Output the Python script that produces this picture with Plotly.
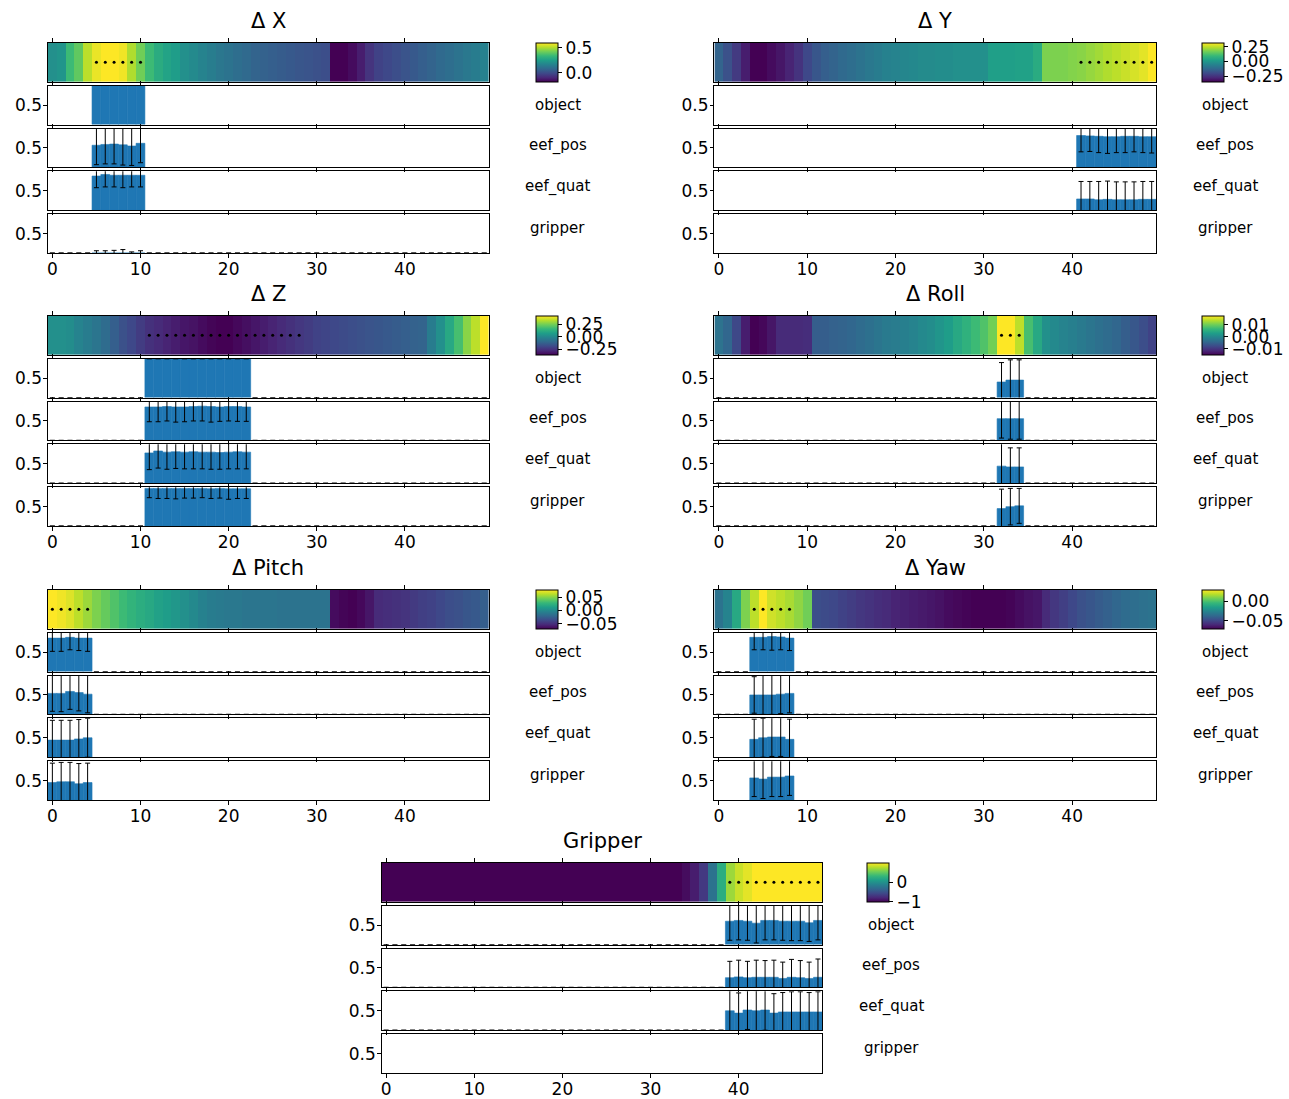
import plotly.graph_objects as go

W, H = 1289, 1099
FONT = "DejaVu Sans"
BAR_BLUE = "#1f77b4"

STEPS = list(range(50))
GROUPS = ["object", "eef_pos", "eef_quat", "gripper"]
X_TICKS = [0, 10, 20, 30, 40]

# ---------------- Δ X ----------------
DX_HEAT = [0.21, 0.226, 0.35, 0.405, 0.52, 0.577, 0.6, 0.6, 0.584, 0.506,
           0.428, 0.35, 0.30, 0.27, 0.25, 0.21, 0.19, 0.17, 0.15, 0.13,
           0.116, 0.10, 0.085, 0.07, 0.062, 0.054, 0.046, 0.038, 0.03, 0.023,
           0.015, 0.007, -0.18, -0.18, -0.157, -0.118, -0.063, -0.024, -0.008, 0.007,
           0.023, 0.038, 0.054, 0.07, 0.085, 0.10, 0.116, 0.132, 0.148, 0.163]
DX_DOTS = [5, 6, 7, 8, 9, 10]
DX_STEPS = [5, 6, 7, 8, 9, 10]
DX_VALUES = {
    "object": [1.05, 1.05, 1.05, 1.05, 1.05, 1.05],
    "eef_pos": [0.57, 0.59, 0.60, 0.58, 0.55, 0.62],
    "eef_quat": [0.88, 0.92, 0.90, 0.90, 0.90, 0.90],
    "gripper": [0.0, 0.0, 0.0, 0.0, 0.0, 0.0],
}
DX_ERRORS = {
    "object": [0.04, 0.04, 0.04, 0.04, 0.04, 0.04],
    "eef_pos": [0.50, 0.50, 0.51, 0.52, 0.50, 0.50],
    "eef_quat": [0.30, 0.32, 0.30, 0.32, 0.30, 0.30],
    "gripper": [0.06, 0.06, 0.07, 0.09, 0.03, 0.06],
}

# ---------------- Δ Y ----------------
DY_HEAT = [-0.136, -0.183, -0.236, -0.296, -0.35, -0.35, -0.33, -0.31, -0.283, -0.25,
           -0.203, -0.169, -0.149, -0.136, -0.122, -0.109, -0.095, -0.082, -0.069, -0.055,
           -0.049, -0.042, -0.035, -0.028, -0.028, -0.022, -0.022, -0.015, -0.015, -0.015,
           -0.015, 0.025, 0.025, 0.025, 0.03, 0.03, 0.06, 0.186, 0.186, 0.186,
           0.193, 0.199, 0.213, 0.226, 0.24, 0.253, 0.266, 0.28, 0.293, 0.32]
DY_DOTS = [41, 42, 43, 44, 45, 46, 47, 48, 49]
DY_STEPS = [41, 42, 43, 44, 45, 46, 47, 48, 49]
DY_VALUES = {
    "eef_pos": [0.82, 0.81, 0.80, 0.79, 0.79, 0.80, 0.80, 0.79, 0.79],
    "eef_quat": [0.29, 0.29, 0.27, 0.28, 0.27, 0.27, 0.27, 0.28, 0.28],
}
DY_ERRORS = {
    "eef_pos": [0.42, 0.40, 0.42, 0.43, 0.41, 0.42, 0.40, 0.41, 0.42],
    "eef_quat": [0.45, 0.45, 0.47, 0.47, 0.46, 0.46, 0.46, 0.46, 0.46],
}

# ---------------- Δ Z ----------------
DZ_HEAT = [0.03, 0.03, 0.022, -0.009, -0.032, -0.056, -0.087, -0.126, -0.165, -0.188,
           -0.22, -0.251, -0.266, -0.282, -0.298, -0.313, -0.321, -0.337, -0.352, -0.36,
           -0.36, -0.344, -0.329, -0.313, -0.298, -0.282, -0.266, -0.251, -0.235, -0.22,
           -0.204, -0.196, -0.188, -0.181, -0.173, -0.165, -0.157, -0.149, -0.142, -0.134,
           -0.126, -0.118, -0.11, -0.032, 0.03, 0.108, 0.186, 0.28, 0.342, 0.42]
DZ_DOTS = [11, 12, 13, 14, 15, 16, 17, 18, 19, 20, 21, 22, 23, 24, 25, 26, 27, 28]
DZ_STEPS = [11, 12, 13, 14, 15, 16, 17, 18, 19, 20, 21, 22]
DZ_VALUES = {
    "object": [1.0, 1.0, 1.0, 1.0, 1.0, 1.0, 1.0, 1.0, 1.0, 1.0, 1.0, 1.0],
    "eef_pos": [0.86, 0.86, 0.87, 0.86, 0.86, 0.87, 0.88, 0.87, 0.86, 0.87, 0.87, 0.86],
    "eef_quat": [0.78, 0.83, 0.80, 0.81, 0.80, 0.81, 0.80, 0.80, 0.79, 0.80, 0.81, 0.80],
    "gripper": [0.97, 0.97, 0.97, 0.97, 0.97, 0.97, 0.97, 0.96, 0.97, 0.96, 0.96, 0.96],
}
DZ_ERRORS = {
    "object": [0.0, 0.0, 0.0, 0.0, 0.0, 0.0, 0.0, 0.0, 0.0, 0.0, 0.0, 0.0],
    "eef_pos": [0.38, 0.38, 0.37, 0.39, 0.38, 0.37, 0.38, 0.40, 0.37, 0.37, 0.38, 0.37],
    "eef_quat": [0.43, 0.44, 0.44, 0.43, 0.43, 0.44, 0.43, 0.44, 0.43, 0.43, 0.44, 0.43],
    "gripper": [0.24, 0.26, 0.26, 0.27, 0.25, 0.25, 0.24, 0.25, 0.25, 0.27, 0.25, 0.25],
}

# ---------------- Δ Roll ----------------
DROLL_HEAT = [-0.0027, -0.0043, -0.0079, -0.0124, -0.015, -0.0144, -0.0131, -0.0111, -0.0111, -0.0111,
              -0.0108, -0.0053, -0.0053, -0.0049, -0.0046, -0.0043, -0.0036, -0.0030, -0.0023, -0.0017,
              -0.0014, -0.0010, -0.0004, 0.0003, 0.0009, 0.0019, 0.0029, 0.0045, 0.0058, 0.0071,
              0.0084, 0.0104, 0.0175, 0.0175, 0.0143, 0.0078, 0.0045, 0.0013, 0.0003, -0.0004,
              -0.0010, -0.0017, -0.0023, -0.0030, -0.0036, -0.0043, -0.0053, -0.0062, -0.0072, -0.0085]
DROLL_DOTS = [32, 33, 34]
DROLL_STEPS = [32, 33, 34]
DROLL_VALUES = {
    "object": [0.40, 0.45, 0.45],
    "eef_pos": [0.56, 0.56, 0.56],
    "eef_quat": [0.44, 0.42, 0.42],
    "gripper": [0.45, 0.50, 0.52],
}
DROLL_ERRORS = {
    "object": [0.50, 0.52, 0.52],
    "eef_pos": [0.50, 0.53, 0.53],
    "eef_quat": [0.60, 0.49, 0.49],
    "gripper": [0.50, 0.47, 0.45],
}

# ---------------- Δ Pitch ----------------
DPITCH_HEAT = [0.078, 0.075, 0.0706, 0.0632, 0.0558, 0.0484, 0.0425, 0.0366, 0.0306, 0.0262,
               0.0218, 0.0188, 0.0144, 0.0114, 0.0084, 0.004, -0.0004, -0.0049, -0.0078, -0.0093,
               -0.0108, -0.0108, -0.0123, -0.0123, -0.0123, -0.0123, -0.0138, -0.0138, -0.0138, -0.0138,
               -0.0138, -0.0138, -0.0656, -0.0685, -0.07, -0.067, -0.0611, -0.0522, -0.0508, -0.0493,
               -0.0478, -0.0448, -0.0419, -0.0404, -0.0374, -0.0345, -0.033, -0.030, -0.0286, -0.0256]
DPITCH_DOTS = [0, 1, 2, 3, 4]
DPITCH_STEPS = [0, 1, 2, 3, 4]
DPITCH_VALUES = {
    "object": [0.86, 0.86, 0.88, 0.86, 0.86],
    "eef_pos": [0.54, 0.54, 0.59, 0.56, 0.52],
    "eef_quat": [0.44, 0.44, 0.44, 0.47, 0.50],
    "gripper": [0.45, 0.47, 0.47, 0.42, 0.45],
}
DPITCH_ERRORS = {
    "object": [0.34, 0.34, 0.32, 0.32, 0.34],
    "eef_pos": [0.46, 0.47, 0.46, 0.47, 0.48],
    "eef_quat": [0.51, 0.51, 0.51, 0.50, 0.50],
    "gripper": [0.50, 0.50, 0.50, 0.52, 0.50],
}

# ---------------- Δ Yaw ----------------
DYAW_HEAT = [-0.0326, -0.0256, -0.0104, 0.0098, 0.0199, 0.030, 0.0229, 0.0199, 0.0169, 0.0128,
             0.0078, -0.0468, -0.0478, -0.0488, -0.0508, -0.0528, -0.0548, -0.0559, -0.0579, -0.0589,
             -0.0609, -0.0619, -0.0629, -0.0639, -0.0649, -0.066, -0.068, -0.069, -0.070, -0.071,
             -0.071, -0.071, -0.071, -0.070, -0.068, -0.066, -0.0649, -0.0589, -0.0548, -0.0518,
             -0.0488, -0.0458, -0.0437, -0.0417, -0.0397, -0.0377, -0.0357, -0.0346, -0.0336, -0.0326]
DYAW_DOTS = [4, 5, 6, 7, 8]
DYAW_STEPS = [4, 5, 6, 7, 8]
DYAW_VALUES = {
    "object": [0.88, 0.88, 0.90, 0.89, 0.86],
    "eef_pos": [0.50, 0.50, 0.50, 0.52, 0.54],
    "eef_quat": [0.46, 0.50, 0.52, 0.52, 0.46],
    "gripper": [0.57, 0.54, 0.59, 0.59, 0.62],
}
DYAW_ERRORS = {
    "object": [0.32, 0.32, 0.35, 0.33, 0.32],
    "eef_pos": [0.47, 0.50, 0.50, 0.50, 0.50],
    "eef_quat": [0.52, 0.50, 0.50, 0.50, 0.52],
    "gripper": [0.48, 0.50, 0.50, 0.50, 0.50],
}

# ---------------- Gripper ----------------
GRIP_HEAT = [-1.0, -1.0, -1.0, -1.0, -1.0, -1.0, -1.0, -1.0, -1.0, -1.0,
             -1.0, -1.0, -1.0, -1.0, -1.0, -1.0, -1.0, -1.0, -1.0, -1.0,
             -1.0, -1.0, -1.0, -1.0, -1.0, -1.0, -1.0, -1.0, -1.0, -1.0,
             -1.0, -1.0, -1.0, -1.0, -0.94, -0.84, -0.66, -0.24, 0.24, 0.70,
             0.84, 0.92, 1.0, 1.0, 1.0, 1.0, 1.0, 1.0, 1.0, 1.0]
GRIP_DOTS = [39, 40, 41, 42, 43, 44, 45, 46, 47, 48, 49]
GRIP_STEPS = [39, 40, 41, 42, 43, 44, 45, 46, 47, 48, 49]
GRIP_VALUES = {
    "object": [0.60, 0.62, 0.60, 0.55, 0.62, 0.62, 0.60, 0.60, 0.60, 0.56, 0.62],
    "eef_pos": [0.25, 0.27, 0.25, 0.26, 0.26, 0.26, 0.23, 0.26, 0.25, 0.23, 0.26],
    "eef_quat": [0.50, 0.44, 0.52, 0.50, 0.52, 0.44, 0.47, 0.47, 0.47, 0.47, 0.47],
}
GRIP_ERRORS = {
    "object": [0.49, 0.50, 0.49, 0.51, 0.50, 0.50, 0.49, 0.50, 0.50, 0.48, 0.50],
    "eef_pos": [0.42, 0.43, 0.42, 0.44, 0.43, 0.44, 0.42, 0.46, 0.44, 0.42, 0.47],
    "eef_quat": [0.52, 0.52, 0.50, 0.52, 0.52, 0.50, 0.50, 0.52, 0.52, 0.50, 0.52],
}

PANELS = [
    dict(title="Δ X", heat=DX_HEAT, zr=(-0.18, 0.60), cb=([0.0, 0.5], ["0.0", "0.5"]),
         dots=DX_DOTS, steps=DX_STEPS, values=DX_VALUES, errors=DX_ERRORS,
         baseline=["gripper"], col="left", row=0),
    dict(title="Δ Y", heat=DY_HEAT, zr=(-0.35, 0.32),
         cb=([-0.25, 0.0, 0.25], ["\u22120.25", "0.00", "0.25"]),
         dots=DY_DOTS, steps=DY_STEPS, values=DY_VALUES, errors=DY_ERRORS,
         baseline=[], col="right", row=0),
    dict(title="Δ Z", heat=DZ_HEAT, zr=(-0.36, 0.42),
         cb=([-0.25, 0.0, 0.25], ["\u22120.25", "0.00", "0.25"]),
         dots=DZ_DOTS, steps=DZ_STEPS, values=DZ_VALUES, errors=DZ_ERRORS,
         baseline=GROUPS, col="left", row=1),
    dict(title="Δ Roll", heat=DROLL_HEAT, zr=(-0.015, 0.0175),
         cb=([-0.01, 0.0, 0.01], ["\u22120.01", "0.00", "0.01"]),
         dots=DROLL_DOTS, steps=DROLL_STEPS, values=DROLL_VALUES, errors=DROLL_ERRORS,
         baseline=GROUPS, col="right", row=1),
    dict(title="Δ Pitch", heat=DPITCH_HEAT, zr=(-0.07, 0.078),
         cb=([-0.05, 0.0, 0.05], ["\u22120.05", "0.00", "0.05"]),
         dots=DPITCH_DOTS, steps=DPITCH_STEPS, values=DPITCH_VALUES, errors=DPITCH_ERRORS,
         baseline=["object", "eef_pos"], col="left", row=2),
    dict(title="Δ Yaw", heat=DYAW_HEAT, zr=(-0.071, 0.030),
         cb=([-0.05, 0.0], ["\u22120.05", "0.00"]),
         dots=DYAW_DOTS, steps=DYAW_STEPS, values=DYAW_VALUES, errors=DYAW_ERRORS,
         baseline=["object", "eef_pos"], col="right", row=2),
    dict(title="Gripper", heat=GRIP_HEAT, zr=(-1.0, 1.0), cb=([-1, 0], ["\u22121", "0"]),
         dots=GRIP_DOTS, steps=GRIP_STEPS, values=GRIP_VALUES, errors=GRIP_ERRORS,
         baseline=["object", "eef_pos", "eef_quat"], col="mid", row=3),
]

# page geometry (pixels); vertical positions are mapped through PAGE_H
COLUMN_X = {"left": (47, 488), "right": (714, 1156), "mid": (381, 822)}
CBAR_X = {"left": 535, "right": 1202, "mid": 867}
ROW_TOP = [43, 317, 592, 866]
PANEL_H = 39
PANEL_STEP = 43
LABEL_DY = [62, 103, 144, 186]
PAGE_H = 1094.0


def yfrac(py):
    return 1 - py / PAGE_H


fig = go.Figure()
layout_axes = {}
annotations = []

axis_font = dict(family=FONT, size=17, color="black")
bar_marker = dict(color=BAR_BLUE, line=dict(color=BAR_BLUE, width=0.6))

for d, p in enumerate(PANELS):
    x0, x1 = COLUMN_X[p["col"]]
    top = ROW_TOP[p["row"]]
    for r in range(5):
        n = d * 5 + r + 1
        sfx = "" if n == 1 else str(n)
        y0 = top + r * PANEL_STEP
        y1 = y0 + PANEL_H
        layout_axes["xaxis" + sfx] = dict(
            domain=[x0 / W, x1 / W], anchor="y" + sfx, range=[-0.5, 49.5],
            tickvals=X_TICKS, ticks="outside", ticklen=3.5, tickwidth=1, tickcolor="black",
            showline=True, linecolor="black", linewidth=1, mirror="ticks",
            showgrid=False, zeroline=False, showticklabels=(r == 4), tickfont=axis_font,
            ticklabelstandoff=-3,
        )
        if r == 0:
            layout_axes["yaxis" + sfx] = dict(
                domain=[yfrac(y1), yfrac(y0)], anchor="x" + sfx, range=[-0.5, 0.5],
                showticklabels=False, ticks="", showgrid=False, zeroline=False,
                showline=True, linecolor="black", linewidth=1, mirror=True,
            )
            cb_vals, cb_text = p["cb"]
            fig.add_trace(go.Heatmap(
                z=[p["heat"]], x=STEPS, y=[0], colorscale="Viridis",
                zmin=p["zr"][0], zmax=p["zr"][1], xaxis="x" + sfx, yaxis="y" + sfx,
                colorbar=dict(
                    x=CBAR_X[p["col"]] / W, xanchor="left", y=yfrac(top), yanchor="top",
                    len=PANEL_H, lenmode="pixels", thickness=22, thicknessmode="pixels",
                    xpad=0, ypad=0, outlinewidth=1, outlinecolor="black",
                    tickvals=cb_vals, ticktext=cb_text, ticks="outside", ticklen=4,
                    tickcolor="black", tickfont=axis_font,
                ),
            ))
            fig.add_trace(go.Scatter(
                x=p["dots"], y=[0] * len(p["dots"]), mode="markers",
                marker=dict(color="black", size=3), xaxis="x" + sfx, yaxis="y" + sfx,
            ))
        else:
            group = GROUPS[r - 1]
            layout_axes["yaxis" + sfx] = dict(
                domain=[yfrac(y1), yfrac(y0)], anchor="x" + sfx, range=[0, 1],
                tickvals=[0.5], ticktext=["0.5"], ticks="outside", ticklen=3.5,
                tickcolor="black", showgrid=False, zeroline=False, tickfont=axis_font,
                showline=True, linecolor="black", linewidth=1, mirror=True,
                ticklabelstandoff=-2,
            )
            err_style = dict(type="data", symmetric=True, color="black",
                             thickness=1, width=2.5)
            # an empty trace keeps the subplot (frame, ticks) drawn even without bars
            fig.add_trace(go.Bar(x=[], y=[], xaxis="x" + sfx, yaxis="y" + sfx))
            if group in p["baseline"]:
                active = p["steps"] if group in p["values"] else []
                idle = [s for s in STEPS if s not in active]
                fig.add_trace(go.Bar(
                    x=idle, y=[0.0] * len(idle), width=1.0,
                    marker=dict(color=BAR_BLUE, line=dict(width=0)),
                    error_y=dict(array=[0.0] * len(idle), **err_style),
                    xaxis="x" + sfx, yaxis="y" + sfx,
                ))
            if group in p["values"]:
                fig.add_trace(go.Bar(
                    x=p["steps"], y=p["values"][group], width=1.0, marker=bar_marker,
                    error_y=dict(array=p["errors"][group], **err_style),
                    xaxis="x" + sfx, yaxis="y" + sfx,
                ))
            annotations.append(dict(
                x=(x1 + 69) / W, y=yfrac(top + LABEL_DY[r - 1]),
                xref="paper", yref="paper", text=group, showarrow=False,
                xanchor="center", yanchor="middle",
                font=dict(family=FONT, size=15, color="black"),
            ))
    annotations.append(dict(
        x=(x0 + x1) / 2 / W, y=yfrac(top - 22), xref="paper", yref="paper",
        text=p["title"], showarrow=False, xanchor="center", yanchor="middle",
        font=dict(family=FONT, size=21, color="black"),
    ))

fig.update_layout(
    width=W, height=H, margin=dict(l=0, r=0, t=0, b=0),
    paper_bgcolor="white", plot_bgcolor="white", showlegend=False,
    barmode="overlay", font=dict(family=FONT, color="black"),
    annotations=annotations, **layout_axes,
)

fig.write_html("out.html")
